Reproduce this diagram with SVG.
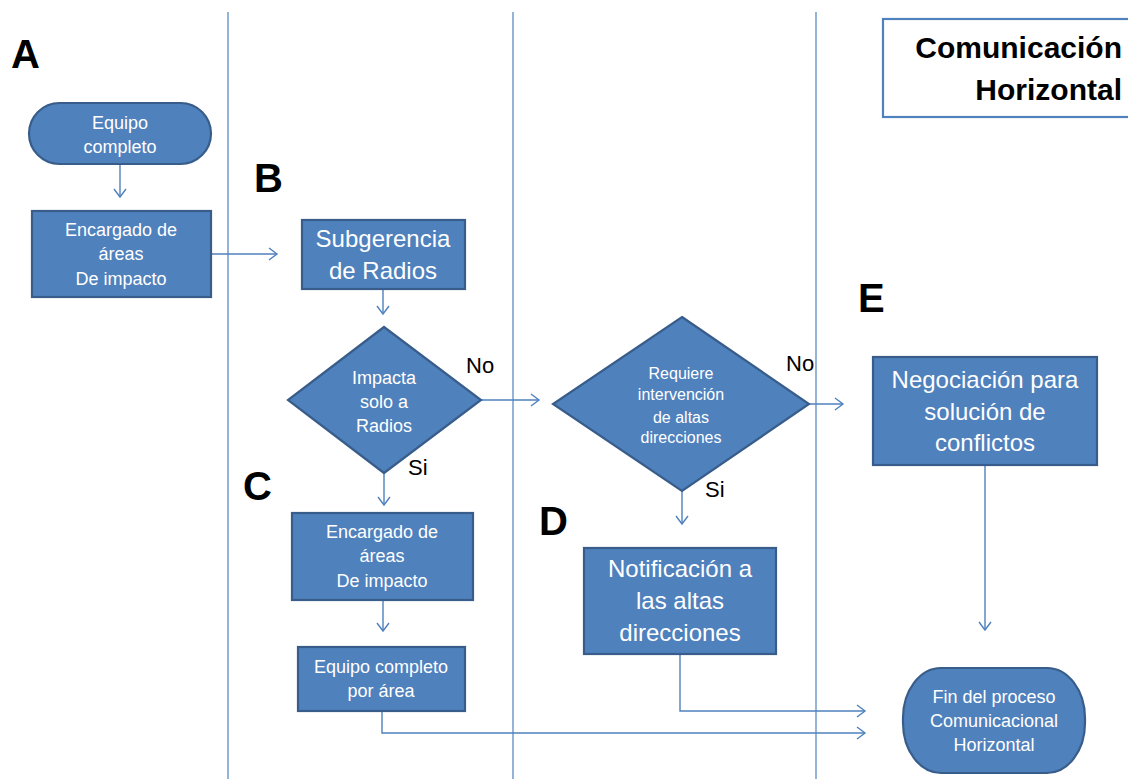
<svg xmlns="http://www.w3.org/2000/svg" width="1128" height="779" viewBox="0 0 1128 779">
  <style>
    .lane { stroke: #4F81BD; stroke-width: 1.2; fill: none; }
    .box { fill: #4F81BD; stroke: #385D8A; stroke-width: 2.2; }
    .t { fill: #FFFFFF; font-family: "Liberation Sans", Arial, sans-serif; text-anchor: middle; }
    .s18 { font-size: 18px; }
    .s16 { font-size: 16px; }
    .s24 { font-size: 24px; }
    .conn { stroke: #4F81BD; stroke-width: 1.4; fill: none; }
    .lbl { fill: #000000; font-family: "Liberation Sans", Arial, sans-serif; font-size: 22px; }
    .letter { fill: #000000; font-family: "Liberation Sans", Arial, sans-serif; font-size: 40px; font-weight: bold; }
    .title { fill: #000000; font-family: "Liberation Sans", Arial, sans-serif; font-size: 30px; font-weight: bold; text-anchor: end; }
  </style>
  <defs>
    <marker id="arrow" markerUnits="userSpaceOnUse" markerWidth="12" markerHeight="14" refX="9" refY="7" orient="auto">
      <path d="M1,1 L9,7 L1,13" fill="none" stroke="#4F81BD" stroke-width="1.4"/>
    </marker>
  </defs>

  <rect width="1128" height="779" fill="#FFFFFF"/>

  <!-- swimlane separators -->
  <g id="lanes">
    <line class="lane" x1="228" y1="12" x2="228" y2="779"/>
    <line class="lane" x1="513" y1="12" x2="513" y2="779"/>
    <line class="lane" x1="816" y1="12" x2="816" y2="779"/>
  </g>

  <!-- title -->
  <g id="title">
    <rect x="883" y="19" width="250" height="98" fill="#FFFFFF" stroke="#4F81BD" stroke-width="2.2"/>
    <text class="title" x="1122" y="58">Comunicación</text>
    <text class="title" x="1122" y="100">Horizontal</text>
  </g>

  <!-- section letters -->
  <g id="letters">
    <text class="letter" x="11" y="68">A</text>
    <text class="letter" x="254" y="192">B</text>
    <text class="letter" x="243" y="500">C</text>
    <text class="letter" x="539" y="535">D</text>
    <text class="letter" x="858" y="312">E</text>
  </g>

  <!-- connectors -->
  <g id="connectors">
    <line class="conn" x1="120" y1="164" x2="120" y2="197" marker-end="url(#arrow)"/>
    <line class="conn" x1="211" y1="254" x2="277" y2="254" marker-end="url(#arrow)"/>
    <line class="conn" x1="383" y1="289" x2="383" y2="314" marker-end="url(#arrow)"/>
    <line class="conn" x1="481" y1="400" x2="539" y2="400" marker-end="url(#arrow)"/>
    <line class="conn" x1="384" y1="473" x2="384" y2="505" marker-end="url(#arrow)"/>
    <line class="conn" x1="383" y1="600" x2="383" y2="631" marker-end="url(#arrow)"/>
    <polyline class="conn" points="382,711 382,733 865,733" marker-end="url(#arrow)"/>
    <line class="conn" x1="809" y1="404" x2="843" y2="404" marker-end="url(#arrow)"/>
    <line class="conn" x1="682" y1="491" x2="682" y2="524" marker-end="url(#arrow)"/>
    <polyline class="conn" points="680,654 680,711 865,711" marker-end="url(#arrow)"/>
    <line class="conn" x1="985" y1="465" x2="985" y2="630" marker-end="url(#arrow)"/>
  </g>

  <!-- branch labels -->
  <g id="labels">
    <text class="lbl" x="466" y="373">No</text>
    <text class="lbl" x="408" y="475">Si</text>
    <text class="lbl" x="786" y="371">No</text>
    <text class="lbl" x="705" y="497">Si</text>
  </g>

  <g id="equipo-completo">
    <rect class="box" x="29" y="103" width="182" height="61" rx="30.5" ry="30.5"/>
    <text class="t s18" x="120" y="129">Equipo</text>
    <text class="t s18" x="120" y="153">completo</text>
  </g>

  <g id="encargado-a">
    <rect class="box" x="32" y="211" width="179" height="86"/>
    <text class="t s18" x="121" y="236">Encargado de</text>
    <text class="t s18" x="121" y="260">áreas</text>
    <text class="t s18" x="121" y="285">De impacto</text>
  </g>

  <g id="subgerencia">
    <rect class="box" x="302" y="220" width="163" height="69"/>
    <text class="t s24" x="383" y="247">Subgerencia</text>
    <text class="t s24" x="383" y="279">de Radios</text>
  </g>

  <g id="impacta-radios">
    <polygon class="box" points="384,327 481,400 384,473 288,400"/>
    <text class="t s18" x="384" y="384">Impacta</text>
    <text class="t s18" x="384" y="408">solo a</text>
    <text class="t s18" x="384" y="432">Radios</text>
  </g>

  <g id="encargado-c">
    <rect class="box" x="292" y="513" width="181" height="87"/>
    <text class="t s18" x="382" y="538">Encargado de</text>
    <text class="t s18" x="382" y="562">áreas</text>
    <text class="t s18" x="382" y="587">De impacto</text>
  </g>

  <g id="equipo-por-area">
    <rect class="box" x="298" y="647" width="167" height="64"/>
    <text class="t s18" x="381" y="673">Equipo completo</text>
    <text class="t s18" x="381" y="697">por área</text>
  </g>

  <g id="requiere-intervencion">
    <polygon class="box" points="682,317 809,404 682,491 553,404"/>
    <text class="t s16" x="681" y="379">Requiere</text>
    <text class="t s16" x="681" y="400">intervención</text>
    <text class="t s16" x="681" y="423">de altas</text>
    <text class="t s16" x="681" y="443">direcciones</text>
  </g>

  <g id="notificacion">
    <rect class="box" x="584" y="548" width="192" height="106"/>
    <text class="t s24" x="680" y="577">Notificación a</text>
    <text class="t s24" x="680" y="609">las altas</text>
    <text class="t s24" x="680" y="641">direcciones</text>
  </g>

  <g id="negociacion">
    <rect class="box" x="873" y="357" width="224" height="108"/>
    <text class="t s24" x="985" y="388">Negociación para</text>
    <text class="t s24" x="985" y="420">solución de</text>
    <text class="t s24" x="985" y="451">conflictos</text>
  </g>

  <g id="fin-proceso">
    <rect class="box" x="903" y="668" width="182" height="105" rx="38" ry="50"/>
    <text class="t s18" x="994" y="703">Fin del proceso</text>
    <text class="t s18" x="994" y="727">Comunicacional</text>
    <text class="t s18" x="994" y="751">Horizontal</text>
  </g>
</svg>
